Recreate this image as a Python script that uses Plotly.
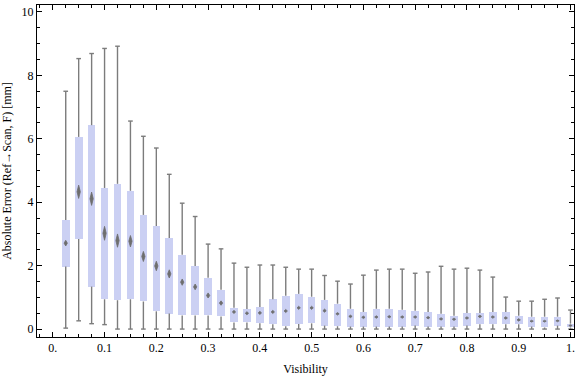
import plotly.graph_objects as go

# Visibility bin positions (0.025 .. 1.0)
visibility = [round(0.025 * k, 3) for k in range(1, 41)]

whisker_low = [0.03, 0.26, 0.17, 0.14, 0.0, 0.0, 0.0, 0.0, 0.0, 0.0,
               0.0, 0.0, 0.0, 0.0, 0.0, 0.0, 0.0, 0.0, 0.0, 0.0,
               0.0, 0.0, 0.0, 0.0, 0.0, 0.0, 0.0, 0.0, 0.0, 0.0,
               0.0, 0.0, 0.0, 0.0, 0.0, 0.0, 0.0, 0.0, 0.0, 0.0]
q1 = [1.97, 2.84, 1.34, 0.94, 0.91, 0.94, 0.87, 0.56, 0.49, 0.43,
      0.43, 0.43, 0.40, 0.21, 0.21, 0.18, 0.15, 0.09, 0.16, 0.18,
      0.11, 0.09, 0.08, 0.08, 0.08, 0.08, 0.08, 0.11, 0.08, 0.08,
      0.08, 0.11, 0.15, 0.15, 0.15, 0.15, 0.08, 0.05, 0.11, 0.05]
median = [2.71, 4.33, 4.11, 3.02, 2.79, 2.77, 2.29, 1.99, 1.74, 1.48,
          1.33, 1.06, 0.82, 0.54, 0.50, 0.51, 0.54, 0.57, 0.67, 0.67,
          0.58, 0.48, 0.40, 0.37, 0.38, 0.39, 0.38, 0.38, 0.36, 0.32,
          0.31, 0.35, 0.40, 0.38, 0.35, 0.29, 0.25, 0.25, 0.26, 0.11]
q3 = [3.44, 6.06, 6.43, 4.45, 4.58, 4.36, 3.60, 3.25, 2.87, 2.34,
      1.99, 1.62, 1.24, 0.67, 0.63, 0.70, 0.94, 1.05, 1.11, 1.02,
      0.92, 0.80, 0.64, 0.54, 0.64, 0.64, 0.61, 0.58, 0.54, 0.48,
      0.42, 0.51, 0.51, 0.54, 0.54, 0.42, 0.39, 0.39, 0.39, 0.17]
whisker_high = [7.50, 8.53, 8.69, 8.85, 8.92, 6.56, 6.08, 5.71, 4.88, 3.97,
                3.55, 2.68, 2.53, 2.08, 1.95, 2.02, 2.02, 1.95, 1.89, 1.89,
                1.69, 1.51, 1.42, 1.70, 1.86, 1.89, 1.89, 1.76, 1.80, 1.98,
                1.89, 1.92, 1.86, 1.64, 1.01, 0.88, 0.88, 0.94, 0.98, 0.60]
# half-height of the median (notch) diamond
median_spread = [0.09, 0.21, 0.21, 0.22, 0.21, 0.18, 0.16, 0.15, 0.13, 0.10,
                 0.09, 0.08, 0.07, 0.05, 0.05, 0.05, 0.05, 0.05, 0.05, 0.05,
                 0.05, 0.04, 0.04, 0.04, 0.04, 0.04, 0.04, 0.04, 0.04, 0.04,
                 0.04, 0.04, 0.04, 0.04, 0.04, 0.04, 0.03, 0.03, 0.03, 0.03]

x_tickvals = [0.0, 0.1, 0.2, 0.3, 0.4, 0.5, 0.6, 0.7, 0.8, 0.9, 1.0]
x_ticktext = ["0.", "0.1", "0.2", "0.3", "0.4", "0.5", "0.6", "0.7", "0.8", "0.9", "1."]
y_tickvals = [0, 2, 4, 6, 8, 10]

BOX_W = 0.0148
CAP_HW = 0.0045
DIA_HW = 0.0032
BOX_COLOR = "#cbd0f3"
WHISK_COLOR = "#7c7c7c"
MED_COLOR = "#6e6e6e"

fig = go.Figure()

# boxes
fig.add_trace(go.Bar(
    x=visibility,
    y=[b - a for a, b in zip(q1, q3)],
    base=q1,
    width=BOX_W,
    marker=dict(color=BOX_COLOR, line=dict(width=0)),
    hoverinfo="skip",
))

# whiskers (vertical + caps)
wx, wy = [], []
for x, lo, a, b, hi in zip(visibility, whisker_low, q1, q3, whisker_high):
    wx += [x, x, None, x, x, None]
    wy += [lo, a, None, b, hi, None]
    wx += [x - CAP_HW, x + CAP_HW, None, x - CAP_HW, x + CAP_HW, None]
    wy += [lo, lo, None, hi, hi, None]
fig.add_trace(go.Scatter(
    x=wx, y=wy, mode="lines",
    line=dict(color=WHISK_COLOR, width=1.4),
    hoverinfo="skip",
))

# median diamonds
dx, dy = [], []
for x, m, s in zip(visibility, median, median_spread):
    dx += [x, x + DIA_HW, x, x - DIA_HW, x, None]
    dy += [m - s, m, m + s, m, m - s, None]
fig.add_trace(go.Scatter(
    x=dx, y=dy, mode="lines", fill="toself",
    fillcolor=MED_COLOR, line=dict(color=MED_COLOR, width=0.8),
    hoverinfo="skip",
))

font = dict(family="Liberation Serif, Times New Roman, serif", size=12, color="black")

fig.update_layout(
    width=576, height=377,
    margin=dict(l=37, r=2, t=5, b=40, autoexpand=False),
    paper_bgcolor="white", plot_bgcolor="white",
    showlegend=False,
    font=font,
    bargap=0,
)
fig.update_xaxes(
    range=[-0.0305, 1.0068],
    showgrid=False, zeroline=False, automargin=False,
    showline=True, linecolor="black", linewidth=1, mirror="ticks",
    ticks="inside", ticklen=5, tickcolor="black", tickwidth=1,
    tickmode="array", tickvals=x_tickvals, ticktext=x_ticktext,
    minor=dict(tickmode="linear", tick0=0, dtick=0.025, ticks="inside",
               ticklen=3, tickcolor="black", tickwidth=1, showgrid=False),
    tickfont=font,
    title=dict(text="Visibility", font=font, standoff=10),
)
fig.update_yaxes(
    range=[-0.25, 10.22],
    showgrid=False, zeroline=False, automargin=False,
    showline=True, linecolor="black", linewidth=1, mirror="ticks",
    ticks="inside", ticklen=5, tickcolor="black", tickwidth=1,
    tickmode="array", tickvals=y_tickvals,
    minor=dict(tickmode="linear", tick0=0, dtick=0.5, ticks="inside",
               ticklen=3, tickcolor="black", tickwidth=1, showgrid=False),
    tickfont=font,
    title=dict(text="Absolute Error (Ref\u2192Scan, F) [mm]", font=font, standoff=8),
)

fig.write_html(
    "out.html",
    config={"displayModeBar": False},
    post_script="document.body.style.margin='0';document.body.style.padding='0';",
)
